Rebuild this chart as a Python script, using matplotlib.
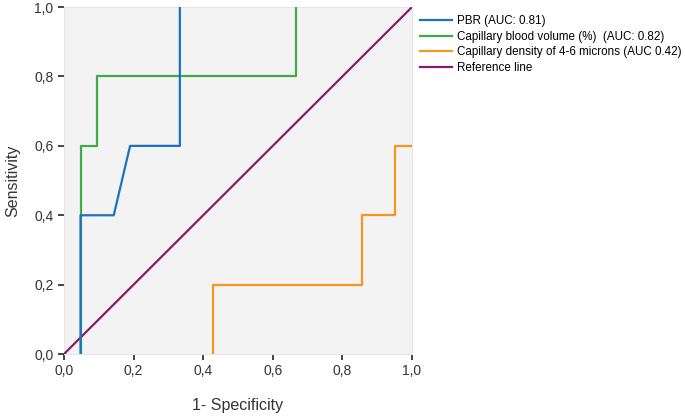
import matplotlib.pyplot as plt
from matplotlib.ticker import FuncFormatter

# ROC step curves (x = 1 - specificity, y = sensitivity)
pbr_x = [0.0476, 0.0476, 0.143, 0.190, 0.333, 0.333]
pbr_y = [0.0, 0.4, 0.4, 0.6, 0.6, 1.0]

cbv_x = [0.0476, 0.0476, 0.095, 0.095, 0.667, 0.667]
cbv_y = [0.0, 0.6, 0.6, 0.8, 0.8, 1.0]

cd_x = [0.4286, 0.4286, 0.857, 0.857, 0.952, 0.952, 1.0]
cd_y = [0.0, 0.2, 0.2, 0.4, 0.4, 0.6, 0.6]

ref_x = [0.0, 1.0]
ref_y = [0.0, 1.0]

labels = ['PBR (AUC: 0.81)',
          'Capillary blood volume (%)  (AUC: 0.82)',
          'Capillary density of 4-6 microns (AUC 0.42)',
          'Reference line']
colors = ['#1a72c4', '#3fab47', '#f5961e', '#8b1a6c']
ticks = [0.0, 0.2, 0.4, 0.6, 0.8, 1.0]

plt.rcParams['font.family'] = ['Liberation Sans', 'DejaVu Sans']

fig = plt.figure(figsize=(6.85, 4.17), dpi=100)
ax = fig.add_axes([0.0934, 0.151, 0.508, 0.832])
ax.set_facecolor('#f3f3f3')

# blue drawn on top of green where they overlap
ax.plot(pbr_x, pbr_y, color=colors[0], lw=1.6, label=labels[0], zorder=4)
ax.plot(cbv_x, cbv_y, color=colors[1], lw=1.6, label=labels[1], zorder=3)
ax.plot(cd_x, cd_y, color=colors[2], lw=1.6, label=labels[2], zorder=3)
ax.plot(ref_x, ref_y, color=colors[3], lw=1.6, label=labels[3], zorder=3)

ax.set_xlim(0, 1)
ax.set_ylim(0, 1)
ax.set_xticks(ticks)
ax.set_yticks(ticks)
fmt = FuncFormatter(lambda v, p: f'{v:.1f}'.replace('.', ','))
ax.xaxis.set_major_formatter(fmt)
ax.yaxis.set_major_formatter(fmt)
ax.tick_params(direction='out', length=4, width=1.2, color='#222222',
               labelsize=10, labelcolor='#333333')

for s in ax.spines.values():
    s.set_color('#e6e6e6')
    s.set_linewidth(0.8)

ax.set_xlabel('1- Specificity', fontsize=11.5, color='#333333', labelpad=14)
ax.set_ylabel('Sensitivity', fontsize=11.5, color='#333333', labelpad=10)

ax.legend(loc='upper left', bbox_to_anchor=(1.0, 1.0), frameon=False,
          fontsize=8.4, handlelength=2.7, handletextpad=0.45,
          labelspacing=0.3, borderaxespad=0.3)

fig.savefig('out.png', dpi=100)
